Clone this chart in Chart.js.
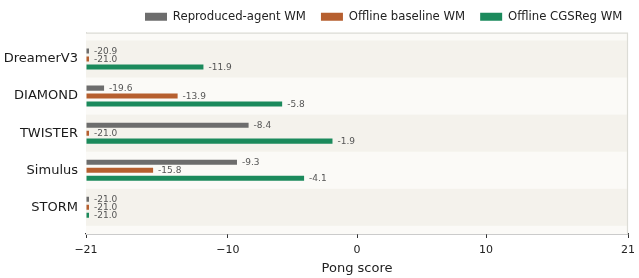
<!DOCTYPE html>
<html>
<head>
<meta charset="utf-8">
<script src="https://cdn.jsdelivr.net/npm/chart.js@4.4.0/dist/chart.umd.min.js"></script>
<style>
  html, body { margin: 0; padding: 0; background: #ffffff; }
  #wrap { width: 639px; height: 278px; }
</style>
</head>
<body>
<div id="wrap"><canvas id="pongChart" width="639" height="278"></canvas></div>
<script>
// Pong scores per world model (baseline for Pong is -21)
const categories = ['DreamerV3', 'DIAMOND', 'TWISTER', 'Simulus', 'STORM'];
const reproducedAgent = [-20.9, -19.6, -8.4, -9.3, -21.0];
const offlineBaseline = [-21.0, -13.9, -21.0, -15.8, -21.0];
const offlineCGSReg = [-11.9, -5.8, -1.9, -4.1, -21.0];
const seriesNames = ['Reproduced-agent WM', 'Offline baseline WM', 'Offline CGSReg WM'];
const xTicks = [-21, -10, 0, 10, 21];

const FONT = "'DejaVu Sans', sans-serif";

const seriesColors = ['#6d6d6d', '#b65f2f', '#1b8a5c'];
const seriesValues = [reproducedAgent, offlineBaseline, offlineCGSReg];

// shaded bands behind each category row + light frame + value labels
const bandPlugin = {
    id: 'bands',
    afterLayout(chart) {
        // legend row starts under the plot's right half, like the original
        if (chart.legend) chart.legend.left = 130;
    },
    beforeDatasetsDraw(chart) {
        const { ctx, chartArea: a, scales: { y } } = chart;
        ctx.save();
        ctx.fillStyle = '#fbfaf7';
        ctx.fillRect(a.left, a.top, a.right - a.left, a.bottom - a.top);
        categories.forEach((c, i) => {
            if (i % 2 !== 0) return;
            const y0 = Math.max(y.getPixelForValue(i - 0.5), a.top);
            const y1 = Math.min(y.getPixelForValue(i + 0.5), a.bottom);
            ctx.fillStyle = '#f4f2ec';
            ctx.fillRect(a.left, y0, a.right - a.left, y1 - y0);
        });
        // top & right frame
        ctx.strokeStyle = '#dcdcd6';
        ctx.lineWidth = 1.2;
        ctx.beginPath();
        ctx.moveTo(a.left, a.top + 0.5);
        ctx.lineTo(a.right - 0.5, a.top + 0.5);
        ctx.lineTo(a.right - 0.5, a.bottom);
        ctx.stroke();
        ctx.restore();
    },
    afterDatasetsDraw(chart) {
        const { ctx } = chart;
        ctx.save();
        ctx.font = '9px ' + FONT;
        ctx.fillStyle = '#555555';
        ctx.textAlign = 'left';
        ctx.textBaseline = 'middle';
        chart.data.datasets.forEach((ds, di) => {
            const meta = chart.getDatasetMeta(di);
            meta.data.forEach((bar, j) => {
                const v = seriesValues[di][j];
                ctx.fillText(v.toFixed(1), bar.x + 5, bar.y + 0.5);
            });
        });
        ctx.restore();
    }
};

const datasets = seriesNames.map((name, i) => ({
    label: name,
    data: seriesValues[i].map((v, j) => ({ x: v, y: j })),
    base: -21,
    backgroundColor: seriesColors[i],
    borderWidth: 0,
    minBarLength: 3,
    categoryPercentage: 0.645,
    barPercentage: 0.63
}));

new Chart(document.getElementById('pongChart').getContext('2d'), {
    type: 'bar',
    data: { datasets },
    plugins: [bandPlugin],
    options: {
        indexAxis: 'y',
        responsive: false,
        animation: false,
        devicePixelRatio: 1,
        layout: { padding: { top: -4, right: 0, bottom: 0, left: 0 } },
        plugins: {
            legend: {
                position: 'top',
                align: 'start',
                labels: {
                    boxWidth: 22,
                    boxHeight: 8,
                    padding: 15,
                    color: '#222',
                    font: { family: FONT, size: 11.7 }
                }
            },
            tooltip: { enabled: false }
        },
        scales: {
            x: {
                type: 'linear',
                min: -21,
                max: 21,
                afterBuildTicks(scale) { scale.ticks = xTicks.map(v => ({ value: v })); },
                afterFit(scale) { scale.height = 44; scale.paddingRight = 11; },
                ticks: {
                    color: '#222',
                    padding: 6,
                    maxRotation: 0,
                    font: { family: FONT, size: 11 },
                    callback: v => (v < 0 ? '\u2212' + Math.abs(v) : String(v))
                },
                grid: { drawOnChartArea: false, drawTicks: true, tickLength: 4, color: '#333', lineWidth: 1 },
                border: { color: '#333', width: 1.3 },
                title: {
                    display: true,
                    text: 'Pong score',
                    color: '#222',
                    font: { family: FONT, size: 13 },
                    padding: { top: 2, bottom: 2 }
                }
            },
            y: {
                type: 'linear',
                reverse: true,
                offset: false,
                min: -0.71,
                max: 4.72,
                afterBuildTicks(scale) { scale.ticks = categories.map((c, i) => ({ value: i })); },
                afterFit(scale) { scale.width = 86; },
                ticks: {
                    color: '#1a1a1a',
                    padding: 8,
                    font: { family: FONT, size: 13 },
                    callback: v => categories[v]
                },
                grid: { display: false, drawTicks: false, tickLength: 0, offset: false },
                border: { color: '#cfcfcf', width: 1 }
            }
        }
    }
});
</script>
</body>
</html>
